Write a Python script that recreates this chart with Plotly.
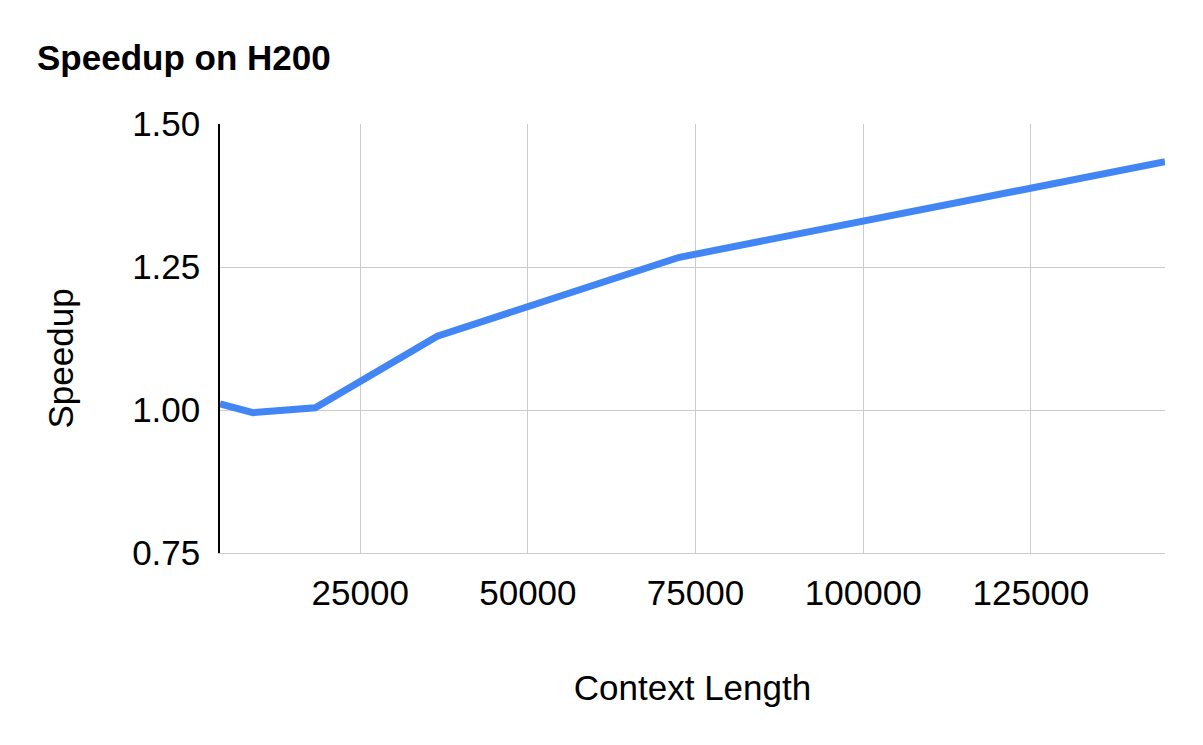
import plotly.graph_objects as go

context_length = [4096, 9000, 18300, 36500, 72600, 145000]
speedup = [1.0105, 0.9953, 1.004, 1.129, 1.267, 1.434]

x_tickvals = [25000, 50000, 75000, 100000, 125000]
y_tickvals = [0.75, 1.00, 1.25, 1.50]
y_ticktext = ["0.75", "1.00", "1.25", "1.50"]

FONT = "Liberation Sans, Arial, sans-serif"
# the page body adds an 8px margin; size the figure to compensate
OFF = 8
W, H = 1203 - OFF, 745 - OFF

fig = go.Figure()
fig.add_trace(go.Scatter(
    x=context_length, y=speedup, mode="lines",
    line=dict(color="#4285F4", width=7),
    hoverinfo="skip", showlegend=False,
))

fig.update_layout(
    width=W, height=H,
    margin=dict(l=220 - OFF, r=38, t=124 - OFF, b=192),
    paper_bgcolor="white", plot_bgcolor="white",
    font=dict(family=FONT, size=35, color="#000000"),
    title=dict(
        text="<b>Speedup on H200</b>",
        font=dict(family=FONT, size=35, color="#000000"),
        xref="container", yref="container",
        x=(37 - OFF) / W, xanchor="left",
        y=1 - (58 - OFF) / H, yanchor="middle",
    ),
    annotations=[dict(
        text="Speedup", textangle=-90, showarrow=False,
        xref="paper", yref="paper", x=0, y=0.5,
        xanchor="center", yanchor="middle",
        xshift=-160, yshift=-20,
        font=dict(family=FONT, size=35, color="#000000"),
    )],
)

fig.update_xaxes(
    range=[min(context_length), max(context_length)],
    tickvals=x_tickvals,
    ticktext=[str(v) for v in x_tickvals],
    showgrid=True, gridcolor="#cccccc", gridwidth=1,
    zeroline=False,
    showline=True, linecolor="#cccccc", linewidth=1,
    ticks="", ticklabelstandoff=9,
    tickfont=dict(family=FONT, size=35, color="#000000"),
    title=dict(text="Context Length", standoff=64,
               font=dict(family=FONT, size=35, color="#000000")),
    automargin=False,
)

fig.update_yaxes(
    range=[0.75, 1.50],
    tickvals=y_tickvals, ticktext=y_ticktext,
    showgrid=True, gridcolor="#cccccc", gridwidth=1,
    zeroline=False,
    showline=True, linecolor="#000000", linewidth=1.5,
    ticks="", ticklabelstandoff=11,
    tickfont=dict(family=FONT, size=35, color="#000000"),
    automargin=False,
)

fig.write_html("out.html")
